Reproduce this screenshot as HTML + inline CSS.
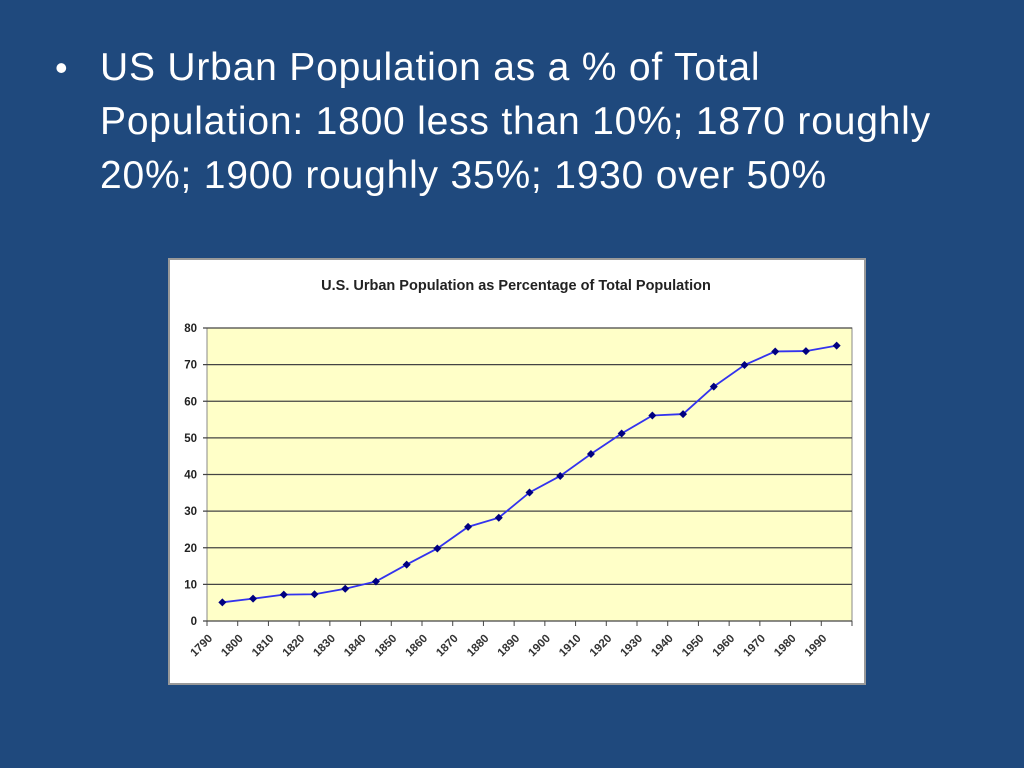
<!DOCTYPE html>
<html><head><meta charset="utf-8"><style>
html,body{margin:0;padding:0;}
body{width:1024px;height:768px;background:#1F497D;position:relative;overflow:hidden;font-family:"Liberation Sans",sans-serif;}
.bullet{position:absolute;left:100px;top:41px;width:855px;color:#fff;font-size:39px;line-height:54px;letter-spacing:0.8px;}
.dot{position:absolute;left:55px;top:41px;color:#fff;font-size:36px;line-height:54px;}
svg{position:absolute;left:0;top:0;}
</style></head><body>
<div class="dot">•</div>
<div class="bullet">US Urban Population as a % of Total Population: 1800 less than 10%; 1870 roughly 20%; 1900 roughly 35%; 1930 over 50%</div>
<svg id="c" width="1024" height="768"></svg>
<script>
const categories=["1790","1800","1810","1820","1830","1840","1850","1860","1870","1880","1890","1900","1910","1920","1930","1940","1950","1960","1970","1980","1990"];
const values=[5.1,6.1,7.2,7.3,8.8,10.8,15.4,19.8,25.7,28.2,35.1,39.6,45.6,51.2,56.1,56.5,64.0,69.9,73.6,73.7,75.2];
const yTicks=[0,10,20,30,40,50,60,70,80];
const L=207,R=852,T=328,B=621,yMax=80;
const step=(R-L)/categories.length;
const xs=i=>L+step*(i+0.5);
const ys=v=>B-(v/yMax)*(B-T);
const NS="http://www.w3.org/2000/svg";
const svg=document.getElementById('c');
function mk(t,a){const e=document.createElementNS(NS,t);for(const k in a)e.setAttribute(k,a[k]);svg.appendChild(e);return e;}
let e=mk('rect',{x:169,y:259,width:696,height:425,fill:'#fff',stroke:'#999','stroke-width':2});


e=mk('text',{x:516,y:290,'text-anchor':'middle','font-size':14.5,'font-weight':'bold',fill:'#222','font-family':'Liberation Sans,sans-serif'});
e.textContent='U.S. Urban Population as Percentage of Total Population';


e=mk('rect',{x:L,y:T,width:R-L,height:B-T,fill:'#FFFFC8',stroke:'#888','stroke-width':1});


yTicks.forEach(v=>{
 const y=ys(v);
 let g=mk('line',{x1:L-4,x2:R,y1:y,y2:y,stroke:'#444','stroke-width':1.2});
 
 
 let t=mk('text',{x:L-10,y:y+4,'text-anchor':'end','font-size':11.5,'font-weight':'bold',fill:'#222','font-family':'Liberation Sans,sans-serif'});
 t.textContent=v;
 
 
});
for(let i=0;i<=categories.length;i++){
 const x=L+step*i;
 let k=mk('line',{x1:x,x2:x,y1:B,y2:B+5,stroke:'#444'});
 
 
}
categories.forEach((c,i)=>{
 const x=L+step*i+6,y=B+18;
 let t=mk('text',{x:x,y:y,'text-anchor':'end','font-size':11.5,'font-weight':'bold',fill:'#333','font-family':'Liberation Sans,sans-serif',transform:`rotate(-45 ${x} ${y})`});
 t.textContent=c;
 
 
});
let p=mk('polyline',{points:values.map((v,i)=>xs(i)+','+ys(v)).join(' '),fill:'none',stroke:'#3333EE','stroke-width':1.8});


values.forEach((v,i)=>{
 const x=xs(i),y=ys(v);
 let m=mk('polygon',{points:`${x},${y-4} ${x+4},${y} ${x},${y+4} ${x-4},${y}`,fill:'#000080'});
 
 
});
</script>
</body></html>
